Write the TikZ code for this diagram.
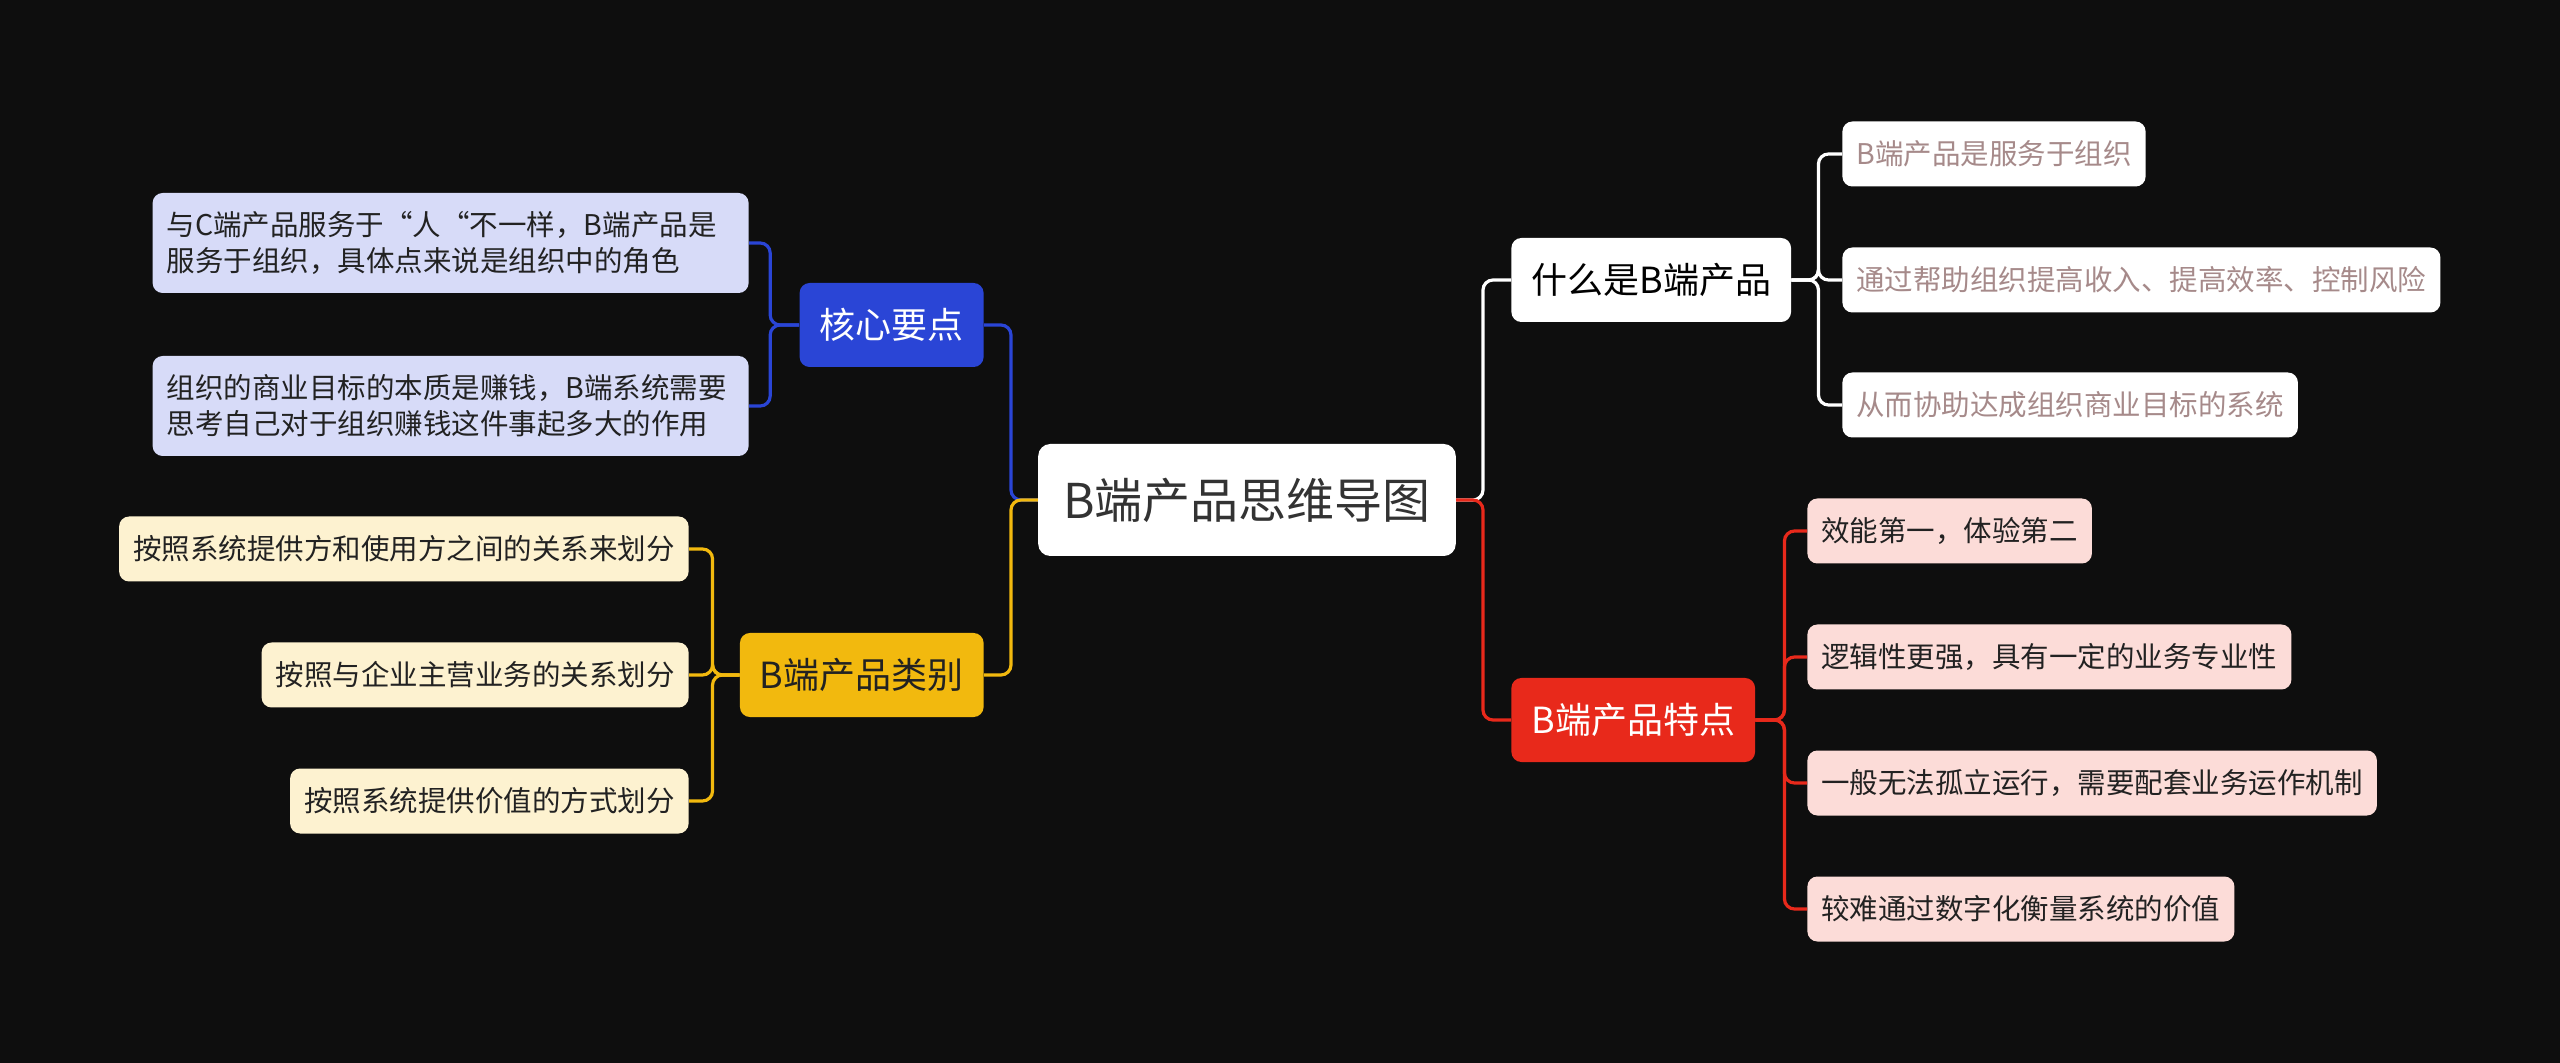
\documentclass[tikz,border=0pt]{standalone}
\usepackage{fontspec}
\setmainfont{Noto Sans CJK SC}
\definecolor{bg}{HTML}{0E0E0E}
\definecolor{cblue}{HTML}{2A45D6}
\definecolor{clav}{HTML}{D7DBF8}
\definecolor{cyellow}{HTML}{F2B90E}
\definecolor{ccream}{HTML}{FDF2D0}
\definecolor{cred}{HTML}{E8291B}
\definecolor{cpink}{HTML}{FCDCD8}
\definecolor{leaftext}{HTML}{222222}
\definecolor{mauve}{HTML}{A68A8A}
\definecolor{roottext}{HTML}{333333}
\begin{document}
\begin{tikzpicture}[x=0.5pt,y=-0.5pt,
  rootbox/.style={fill=white, text=roottext, rounded corners=6pt, inner xsep=12.5pt,
    minimum height=56pt, font=\fontsize{24}{28}\selectfont},
  midbox/.style={rounded corners=5pt, inner xsep=10pt, inner ysep=0pt,
    minimum height=42pt, font=\fontsize{18}{22}\selectfont},
  leafbox/.style={rounded corners=5pt, inner xsep=7pt, inner ysep=0pt,
    minimum height=32.5pt, font=\fontsize{14.25}{18}\selectfont, text=leaftext, align=left},
  link/.style={line width=1.6pt, rounded corners=5pt}]
\fill[bg] (0,0) rectangle (2560,1063);
% nodes
\node[rootbox] (root) at (1247,500) {B端产品思维导图};
\node[midbox, fill=cblue, text=white, anchor=east] (core) at (984,325) {核心要点};
\node[midbox, fill=cyellow, text=leaftext, anchor=east] (cat) at (984,675) {B端产品类别};
\node[midbox, fill=white, text=black, anchor=west] (what) at (1511,280) {什么是B端产品};
\node[midbox, fill=cred, text=white, anchor=west] (feat) at (1511,720) {B端产品特点};
% core leaves
\node[leafbox, fill=clav, anchor=east, minimum height=50pt, text width=284pt] (c1) at (749,243) {与C端产品服务于“人“不一样，B端产品是\\服务于组织，具体点来说是组织中的角色};
\node[leafbox, fill=clav, anchor=east, minimum height=50pt, text width=284pt] (c2) at (749,406) {组织的商业目标的本质是赚钱，B端系统需要\\思考自己对于组织赚钱这件事起多大的作用};
% category leaves
\node[leafbox, fill=ccream, anchor=east] (k1) at (689,549) {按照系统提供方和使用方之间的关系来划分};
\node[leafbox, fill=ccream, anchor=east] (k2) at (689,675) {按照与企业主营业务的关系划分};
\node[leafbox, fill=ccream, anchor=east] (k3) at (689,801) {按照系统提供价值的方式划分};
% what leaves
\node[leafbox, fill=white, text=mauve, anchor=west] (w1) at (1842,154) {B端产品是服务于组织};
\node[leafbox, fill=white, text=mauve, anchor=west] (w2) at (1842,280) {通过帮助组织提高收入、提高效率、控制风险};
\node[leafbox, fill=white, text=mauve, anchor=west] (w3) at (1842,405) {从而协助达成组织商业目标的系统};
% feature leaves
\node[leafbox, fill=cpink, anchor=west] (f1) at (1807,531) {效能第一，体验第二};
\node[leafbox, fill=cpink, anchor=west] (f2) at (1807,657) {逻辑性更强，具有一定的业务专业性};
\node[leafbox, fill=cpink, anchor=west] (f3) at (1807,783) {一般无法孤立运行，需要配套业务运作机制};
\node[leafbox, fill=cpink, anchor=west] (f4) at (1807,909) {较难通过数字化衡量系统的价值};
% junction coordinates
\coordinate (jl) at (1011,500);
\coordinate (jr) at (1483,500);
% main connectors
\draw[link, cblue] (root.west) -- (jl) |- (core.east);
\draw[link, cyellow] (root.west) -- (jl) |- (cat.east);
\draw[link, white] (root.east) -- (jr) |- (what.west);
\draw[link, cred] (root.east) -- (jr) |- (feat.west);
% leaf connectors
\draw[link, cblue] (core.west) -- ++(-29,0) |- (c1.east);
\draw[link, cblue] (core.west) -- ++(-29,0) |- (c2.east);
\draw[link, cyellow] (cat.west) -- ++(-27,0) |- (k1.east);
\draw[link, cyellow] (cat.west) -- ++(-27,0) |- (k2.east);
\draw[link, cyellow] (cat.west) -- ++(-27,0) |- (k3.east);
\draw[link, white] (what.east) -- ++(27,0) |- (w1.west);
\draw[link, white] (what.east) -- ++(27,0) |- (w2.west);
\draw[link, white] (what.east) -- ++(27,0) |- (w3.west);
\draw[link, cred] (feat.east) -- ++(29,0) |- (f1.west);
\draw[link, cred] (feat.east) -- ++(29,0) |- (f2.west);
\draw[link, cred] (feat.east) -- ++(29,0) |- (f3.west);
\draw[link, cred] (feat.east) -- ++(29,0) |- (f4.west);
\end{tikzpicture}
\end{document}
